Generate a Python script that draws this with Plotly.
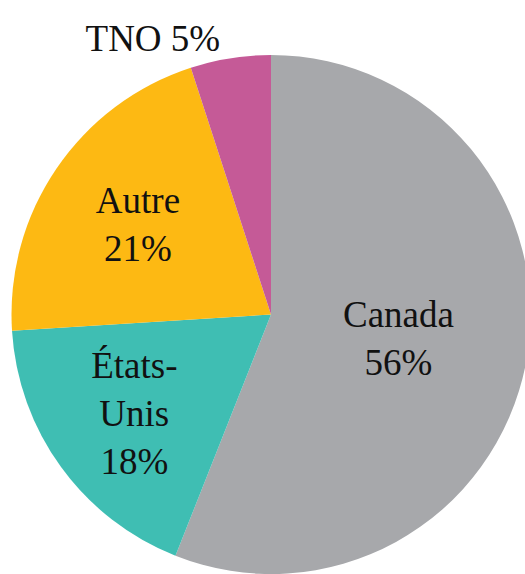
import plotly.graph_objects as go

labels = ["Canada", "États-Unis", "Autre", "TNO"]
display_text = ["Canada", "États-<br>Unis", "Autre", "TNO"]
values = [56, 18, 21, 5]
colors = ["#A7A8AB", "#3FBEB3", "#FDB913", "#C55A97"]
positions = ["inside", "inside", "inside", "outside"]
templates = ["%{text}<br>%{value}%", "%{text}<br>%{value}%", "%{text}<br>%{value}%", "%{text} %{value}%"]

fig = go.Figure(go.Pie(
    labels=labels,
    values=values,
    text=display_text,
    texttemplate=templates,
    textposition=positions,
    insidetextorientation="horizontal",
    sort=False,
    direction="clockwise",
    rotation=0,
    marker=dict(colors=colors, line=dict(width=0)),
    textfont=dict(family="Liberation Serif", size=37, color="#111111"),
    showlegend=False,
    automargin=False,
))

fig.update_layout(
    width=542,
    height=574,
    margin=dict(l=11, r=11, t=55, b=0),
    paper_bgcolor="white",
    plot_bgcolor="white",
)

fig.write_html(
    "out.html",
    config={"displayModeBar": False},
    post_script="document.body.style.overflow='hidden';document.body.style.margin='0';",
)
